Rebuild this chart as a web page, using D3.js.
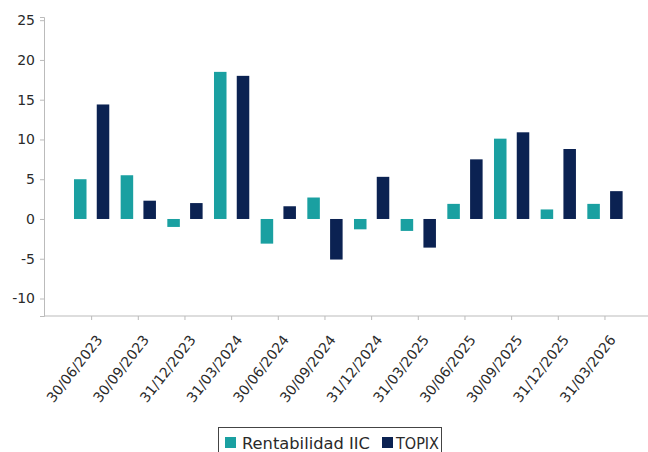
<!doctype html>
<html>
  <head>
    <meta charset="utf-8">
    <title>Rentabilidad IIC vs TOPIX</title>
    <script src="https://d3js.org/d3.v7.min.js"></script>
    <style type="text/css">
      body { margin: 0; background-color: #ffffff; }
      text { font-family: "DejaVu Sans", sans-serif; fill: #2a2a2a; }
    </style>
  </head>
  <body>
    <script>
      // chart data (quarterly returns, %)
      var fechas = ["30/06/2023", "30/09/2023", "31/12/2023", "31/03/2024",
                    "30/06/2024", "30/09/2024", "31/12/2024", "31/03/2025",
                    "30/06/2025", "30/09/2025", "31/12/2025", "31/03/2026"];
      var rentIIC = [5.0, 5.5, -1.0, 18.5, -3.1, 2.7, -1.3, -1.5, 1.9, 10.1, 1.2, 1.9];
      var topix   = [14.4, 2.3, 2.0, 18.0, 1.6, -5.1, 5.3, -3.6, 7.5, 10.9, 8.8, 3.5];
      var series  = ["Rentabilidad IIC", "TOPIX"];
      var yTicks  = [-10, -5, 0, 5, 10, 15, 20, 25];

      var w = 648, h = 452;
      var colors = ["#1aa0a1", "#0b2252"];

      var svg = d3.select("body").append("svg")
        .attr("width", w)
        .attr("height", h);

      // scales
      var y = d3.scaleLinear().domain([-12.2, 25.4]).range([316, 17]);
      var x0 = d3.scaleBand().domain(fechas).range([68.3, 628.3]);
      var x1 = d3.scaleBand().domain(series).range([0, x0.bandwidth()])
        .paddingInner(0.45).paddingOuter(0.25);

      // y axis
      var yAxis = svg.append("g").attr("transform", "translate(44,0)")
        .call(d3.axisLeft(y).tickValues(yTicks).tickSize(4).tickPadding(5)
          .tickFormat(function(d) { return String(d); }));
      yAxis.select(".domain").attr("stroke", "#bbbbbb");
      yAxis.selectAll(".tick line").attr("stroke", "#bbbbbb");
      yAxis.selectAll(".tick text")
        .style("font-size", "14px").style("font-family", "DejaVu Sans").attr("fill", "#2a2a2a");

      // x axis line
      svg.append("line")
        .attr("x1", 44).attr("x2", 648)
        .attr("y1", 316).attr("y2", 316)
        .attr("stroke", "#bbbbbb");

      var xg = svg.append("g");
      xg.selectAll("line.tick")
        .data(fechas).enter().append("line")
        .attr("class", "tick")
        .attr("x1", function(d) { return x0(d) + x0.bandwidth() / 2; })
        .attr("x2", function(d) { return x0(d) + x0.bandwidth() / 2; })
        .attr("y1", 316).attr("y2", 320)
        .attr("stroke", "#bbbbbb");
      xg.selectAll("text")
        .data(fechas).enter().append("text")
        .attr("transform", function(d) {
          return "translate(" + (x0(d) + x0.bandwidth() / 2 + 11.5) + ",340) rotate(-52)";
        })
        .attr("text-anchor", "end")
        .style("font-size", "14px")
        .text(function(d) { return d; });

      // bars
      var groups = svg.append("g").selectAll("g")
        .data(fechas).enter().append("g")
        .attr("transform", function(d) { return "translate(" + x0(d) + ",0)"; });

      groups.selectAll("rect")
        .data(function(d, i) { return [rentIIC[i], topix[i]]; })
        .enter().append("rect")
        .attr("x", function(d, j) { return x1(series[j]); })
        .attr("width", x1.bandwidth())
        .attr("y", function(d) { return y(Math.max(0, d)); })
        .attr("height", function(d) { return Math.abs(y(d) - y(0)); })
        .attr("fill", function(d, j) { return colors[j]; });

      // legend
      var legend = svg.append("g");
      legend.append("rect")
        .attr("x", 218.5).attr("y", 427.5)
        .attr("width", 223).attr("height", 34)
        .attr("fill", "#ffffff").attr("stroke", "#444444");
      var legX = [225, 382];
      var legItems = legend.selectAll("g.item")
        .data(series).enter().append("g")
        .attr("class", "item")
        .attr("transform", function(d, i) { return "translate(" + legX[i] + ",0)"; });
      legItems.append("rect")
        .attr("x", 0).attr("y", 437)
        .attr("width", 11).attr("height", 11)
        .attr("fill", function(d, i) { return colors[i]; });
      legItems.append("text")
        .attr("x", function(d, i) { return i === 0 ? 17 : 14; })
        .attr("y", 448.5)
        .style("font-size", "15.5px")
        .attr("textLength", function(d, i) { return i === 0 ? 128 : 43; })
        .attr("lengthAdjust", "spacingAndGlyphs")
        .text(function(d) { return d; });
    </script>
  </body>
</html>
